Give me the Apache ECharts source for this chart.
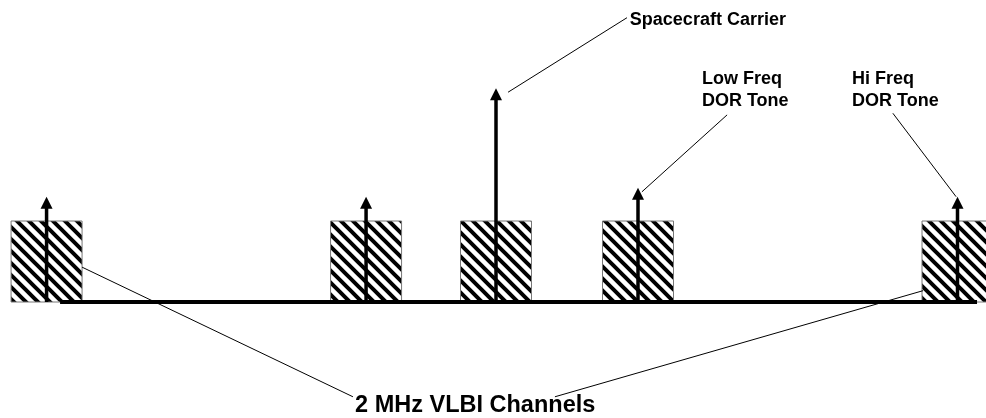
<!DOCTYPE html>
<html>
<head>
<meta charset="utf-8">
<script src="https://cdn.jsdelivr.net/npm/echarts@6/dist/echarts.min.js"></script>
<style>
    html, body { margin: 0; padding: 0; background: #fff; }
    #main { width: 986px; height: 418px; }
</style>
</head>
<body>
<div id="main"></div>
<script>
    // frequency offset from the spacecraft carrier, MHz
    var channelCenters = [-12.66, -3.66, 0, 4.0, 13.0];
    var channelWidth = 2;      // 2 MHz VLBI channels
    var channelLevel = 1;
    var toneFreqs = [-12.66, -3.66, 0, 4.0, 13.0];
    var toneLevels = [1.3, 1.3, 2.64, 1.41, 1.3];
    var baselineSpan = [-12.28, 13.55];

    // leader lines: [from, to] in (MHz, level)
    var leaderLines = [
        [[0.34, 2.59], [3.69, 3.51]],
        [[6.51, 2.31], [4.11, 1.36]],
        [[11.18, 2.33], [12.96, 1.30]],
        [[-11.66, 0.43], [-4.03, -1.17]],
        [[12.03, 0.14], [1.66, -1.17]]
    ];
    var labelTexts = ['Spacecraft Carrier', 'Low Freq\nDOR Tone', 'Hi Freq\nDOR Tone', '2 MHz VLBI Channels'];
    var labelAnchors = [[3.77, 3.48], [5.80, 2.617], [10.03, 2.617], [-3.97, -1.284]];

    // hatch pattern for the channel boxes
    var hatch = document.createElement('canvas');
    hatch.width = 12;
    hatch.height = 12;
    var ctx = hatch.getContext('2d');
    ctx.fillStyle = '#fff';
    ctx.fillRect(0, 0, 12, 12);
    ctx.strokeStyle = '#000';
    ctx.lineWidth = 4;
    ctx.beginPath();
    ctx.moveTo(-2, -2); ctx.lineTo(14, 14);
    ctx.moveTo(-8, 4); ctx.lineTo(8, 20);
    ctx.moveTo(4, -8); ctx.lineTo(20, 8);
    ctx.stroke();

    var myChart = echarts.init(document.getElementById('main'));

    var option = {
        backgroundColor: '#fff',
        animation: false,
        grid: {
            left: 16.75,
            right: 10.75,
            top: 10.4,
            bottom: 2.6
        },
        xAxis: {
            type: 'value',
            show: false,
            min: -13.5,
            max: 13.5
        },
        yAxis: {
            type: 'value',
            show: false,
            min: -1.4,
            max: 3.6
        },
        series: [
            {
                // channel boxes
                type: 'custom',
                clip: false,
                data: channelCenters.map(function (c) { return [c, channelLevel]; }),
                renderItem: function (params, api) {
                    var c = api.value(0);
                    var p0 = api.coord([c - channelWidth / 2, api.value(1)]);
                    var p1 = api.coord([c + channelWidth / 2, 0]);
                    return {
                        type: 'rect',
                        shape: {x: p0[0], y: p0[1], width: p1[0] - p0[0], height: p1[1] - p0[1]},
                        style: {
                            fill: {image: hatch, repeat: 'repeat'},
                            stroke: '#777',
                            lineWidth: 1
                        }
                    };
                }
            },
            {
                // frequency axis line
                type: 'custom',
                clip: false,
                data: [[baselineSpan[0], baselineSpan[1]]],
                renderItem: function (params, api) {
                    var a = api.coord([api.value(0), 0]);
                    var b = api.coord([api.value(1), 0]);
                    return {
                        type: 'line',
                        shape: {x1: a[0], y1: a[1], x2: b[0], y2: b[1]},
                        style: {stroke: '#000', lineWidth: 4}
                    };
                }
            },
            {
                // tones (arrows)
                type: 'custom',
                clip: false,
                data: toneFreqs.map(function (f, i) { return [f, toneLevels[i]]; }),
                renderItem: function (params, api) {
                    var base = api.coord([api.value(0), 0]);
                    var tip = api.coord([api.value(0), api.value(1)]);
                    var head = 12;
                    return {
                        type: 'group',
                        children: [
                            {
                                type: 'line',
                                shape: {x1: base[0], y1: base[1], x2: tip[0], y2: tip[1] + head - 1},
                                style: {stroke: '#000', lineWidth: 3.5}
                            },
                            {
                                type: 'polygon',
                                shape: {points: [[tip[0], tip[1]], [tip[0] - 6, tip[1] + head], [tip[0] + 6, tip[1] + head]]},
                                style: {fill: '#000'}
                            }
                        ]
                    };
                }
            },
            {
                // leader lines
                type: 'custom',
                clip: false,
                data: leaderLines.map(function (l) { return [l[0][0], l[0][1], l[1][0], l[1][1]]; }),
                renderItem: function (params, api) {
                    var a = api.coord([api.value(0), api.value(1)]);
                    var b = api.coord([api.value(2), api.value(3)]);
                    return {
                        type: 'line',
                        shape: {x1: a[0], y1: a[1], x2: b[0], y2: b[1]},
                        style: {stroke: '#000', lineWidth: 1}
                    };
                }
            },
            {
                // labels
                type: 'custom',
                clip: false,
                data: labelAnchors.map(function (p, i) { return [p[0], p[1], i]; }),
                renderItem: function (params, api) {
                    var i = api.value(2);
                    var p = api.coord([api.value(0), api.value(1)]);
                    var big = i === 3;
                    return {
                        type: 'text',
                        style: {
                            x: p[0],
                            y: p[1],
                            text: labelTexts[i],
                            fill: '#000',
                            font: 'bold ' + (big ? 23.5 : 18) + 'px "Liberation Sans", Arial, sans-serif',
                            lineHeight: big ? 26 : 22,
                            align: 'left',
                            verticalAlign: 'middle'
                        }
                    };
                }
            }
        ]
    };

    myChart.setOption(option);
</script>
</body>
</html>
